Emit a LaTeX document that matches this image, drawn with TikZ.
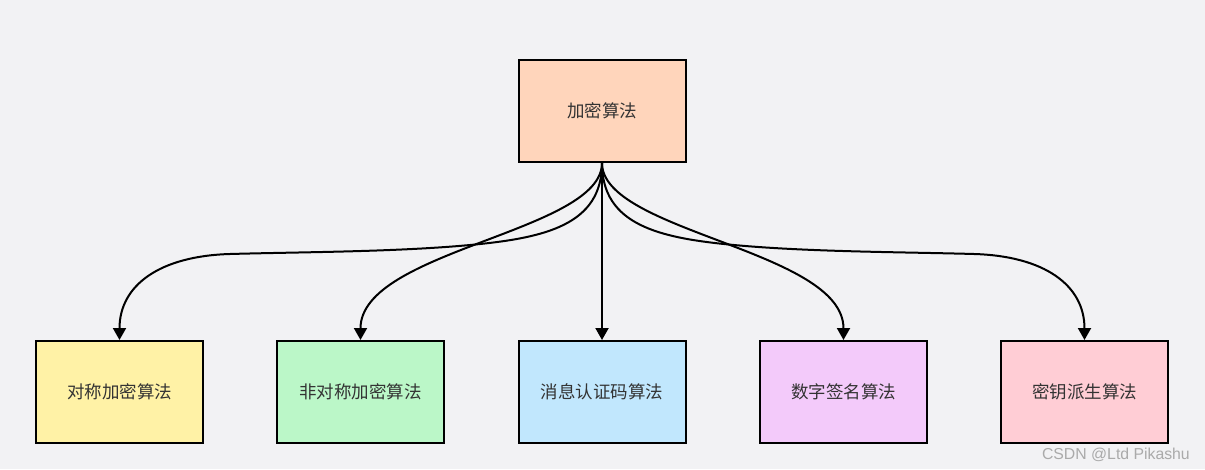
\documentclass[tikz,border=0pt]{standalone}
\usepackage{fontspec}
\setmainfont{Liberation Sans}
\newfontfamily\cjk{Noto Sans CJK SC}
\usetikzlibrary{arrows.meta}
\definecolor{bgc}{RGB}{242,242,244}
\definecolor{cpeach}{RGB}{255,213,187}
\definecolor{cyellow}{RGB}{255,242,166}
\definecolor{cgreen}{RGB}{187,247,200}
\definecolor{cblue}{RGB}{193,231,253}
\definecolor{cpurple}{RGB}{243,202,250}
\definecolor{cpink}{RGB}{255,205,213}
\definecolor{txt}{RGB}{51,51,51}
\tikzset{
  box/.style={draw=black, line width=2pt, minimum width=167pt, minimum height=102pt, inner sep=0pt,
    font=\cjk\fontsize{17.5}{20}\selectfont, text=txt},
  link/.style={draw=black, line width=2pt, -{Triangle[width=13pt,length=12pt]}}
}
\begin{document}
\begin{tikzpicture}[x=1pt,y=-1pt]
\useasboundingbox[fill=bgc] (0,0) rectangle (1205,469);
\node[box, fill=cpeach] (root) at (602,111) {加密算法};
\node[box, fill=cyellow] (sym) at (119.5,392) {对称加密算法};
\node[box, fill=cgreen] (asym) at (360.5,392) {非对称加密算法};
\node[box, fill=cblue] (mac) at (602,392) {消息认证码算法};
\node[box, fill=cpurple] (sig) at (843.5,392) {数字签名算法};
\node[box, fill=cpink] (kdf) at (1084.5,392) {密钥派生算法};
\draw[link] (root.south) .. controls (602,225) and (545,238) .. (470,245)
  .. controls (395,252) and (300,252) .. (230,254)
  .. controls (160,256) and (119.5,285) .. (sym.north);
\draw[link] (root.south) .. controls (602,232) and (360.5,250) .. (asym.north);
\draw[link] (root.south) -- (mac.north);
\draw[link] (root.south) .. controls (602,232) and (843.5,250) .. (sig.north);
\draw[link] (root.south) .. controls (602,225) and (659,238) .. (734,245)
  .. controls (809,252) and (904,252) .. (974,254)
  .. controls (1044,256) and (1084.5,285) .. (kdf.north);
\node[anchor=base east, text={rgb,255:red,170;green,170;blue,170}, font=\fontsize{15.8}{18}\selectfont, inner sep=0pt] (wm) at (1190,459) {CSDN @Ltd Pikashu};
\end{tikzpicture}
\end{document}
